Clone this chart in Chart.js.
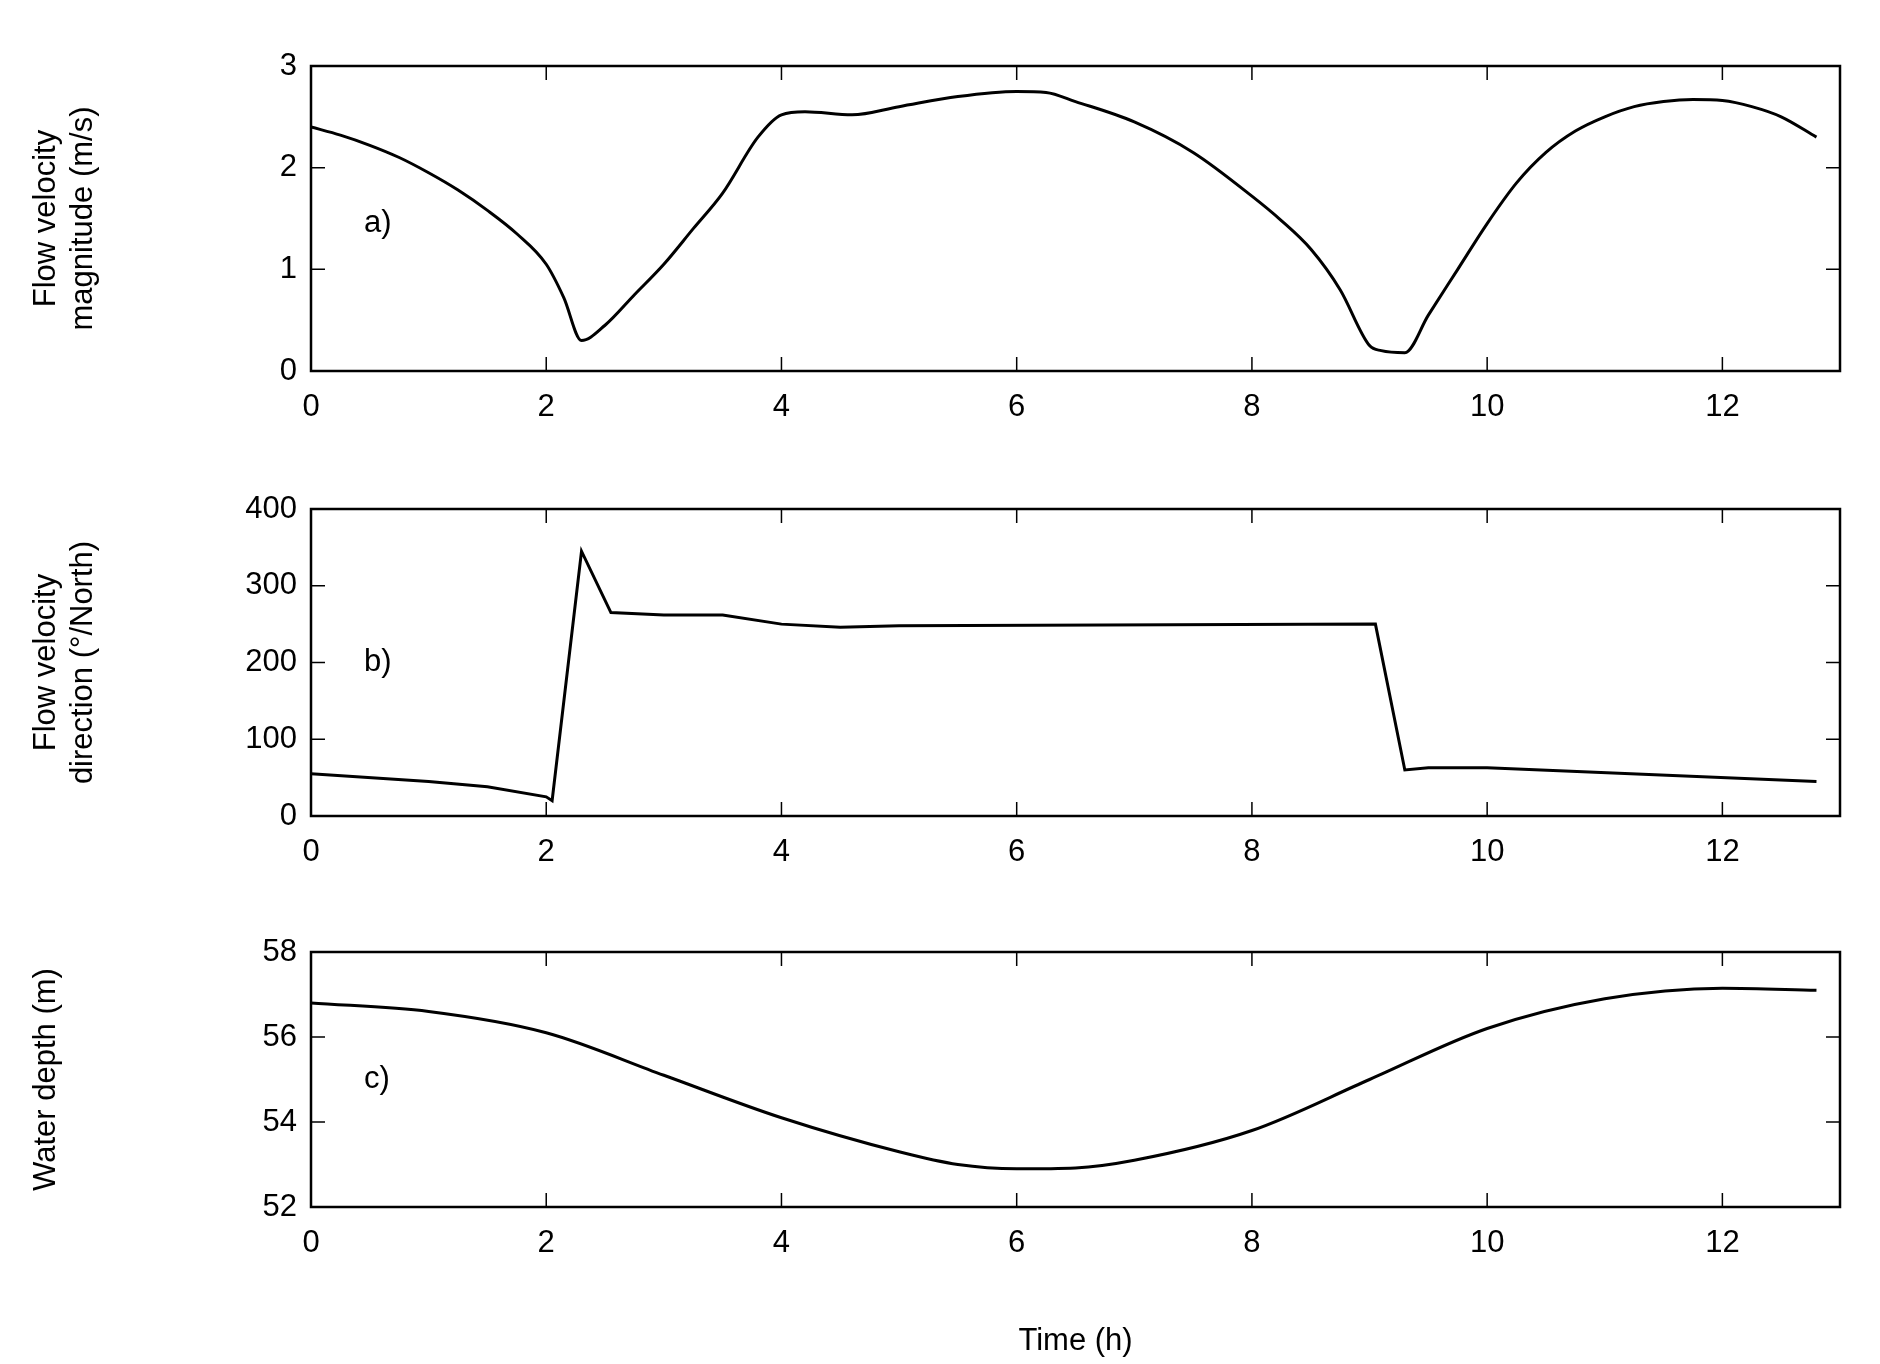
<!DOCTYPE html>
<html><head><meta charset="utf-8">
<script src="https://cdn.jsdelivr.net/npm/chart.js@4"></script>
<style>
body{margin:0;background:#fff;width:1880px;height:1364px;overflow:hidden;font-family:"Liberation Sans",Arial,sans-serif}
.p{position:absolute;left:0;width:1880px}
</style></head><body>
<div class="p" style="top:0;height:450px"><canvas id="c1"></canvas></div>
<div class="p" style="top:450px;height:430px"><canvas id="c2"></canvas></div>
<div class="p" style="top:880px;height:484px"><canvas id="c3"></canvas></div>
<script>
// hours vs value
const timeA = [0,0.25,0.5,0.75,1,1.25,1.5,1.75,2,2.15,2.3,2.5,2.75,3,3.25,3.5,3.8,4,4.2,4.6,5,5.5,6,6.25,6.5,7,7.5,8,8.25,8.5,8.75,9,9.1,9.3,9.5,9.75,10,10.25,10.5,10.75,11,11.25,11.5,11.75,12,12.25,12.5,12.8];
const speed = [2.4,2.32,2.22,2.1,1.95,1.78,1.58,1.35,1.05,0.72,0.3,0.45,0.75,1.05,1.4,1.75,2.3,2.52,2.55,2.52,2.6,2.7,2.75,2.74,2.65,2.45,2.15,1.72,1.48,1.2,0.8,0.25,0.2,0.18,0.55,1.0,1.45,1.85,2.15,2.36,2.5,2.6,2.65,2.67,2.66,2.6,2.5,2.3];
const timeB = [0,1,1.5,2,2.05,2.3,2.55,3,3.5,4,4.5,5,9.05,9.3,9.5,10,12.8];
const direction = [55,45,38,25,20,345,265,262,262,250,246,248,250,60,63,63,45];
const timeC = [0,1,2,3,4,5,5.5,6,6.5,7,8,9,10,11,12,12.8];
const depth = [56.8,56.6,56.1,55.1,54.1,53.3,53.0,52.9,52.92,53.1,53.8,55.0,56.2,56.9,57.15,57.1];
const xTicks = [0,2,4,6,8,10,12];

const font = {family:'"Liberation Sans", Arial, sans-serif', size:31};

const framePlugin = {
  id:'frame',
  afterDraw(chart, args, opts){
    const {ctx, chartArea:a, scales:{x,y}} = chart;
    ctx.save();
    ctx.strokeStyle='#000'; ctx.lineWidth=2.5;
    ctx.strokeRect(a.left,a.top,a.right-a.left,a.bottom-a.top);
    ctx.lineWidth=1.5;
    x.ticks.forEach(t=>{const px=x.getPixelForValue(t.value);
      ctx.beginPath();ctx.moveTo(px,a.bottom);ctx.lineTo(px,a.bottom-14);
      ctx.moveTo(px,a.top);ctx.lineTo(px,a.top+14);ctx.stroke();});
    y.ticks.forEach(t=>{const py=y.getPixelForValue(t.value);
      ctx.beginPath();ctx.moveTo(a.left,py);ctx.lineTo(a.left+14,py);
      ctx.moveTo(a.right,py);ctx.lineTo(a.right-14,py);ctx.stroke();});
    ctx.fillStyle='#000'; ctx.font='31px "Liberation Sans", Arial';
    ctx.textBaseline='middle';
    ctx.fillText(opts.text, x.getPixelForValue(opts.at[0]), y.getPixelForValue(opts.at[1]));
    ctx.restore();
  }
};

function makeChart(id, xs, ys, yMin, yMax, yStep, yTitle, panel, padTop, xH, xTitle, tension){
  new Chart(document.getElementById(id), {
    type:'line',
    data:{datasets:[{data:xs.map((t,i)=>({x:t,y:ys[i]})),borderColor:'#000',borderWidth:3,pointRadius:0,tension:tension,cubicInterpolationMode:tension?'monotone':'default'}]},
    options:{
      responsive:true, maintainAspectRatio:false, animation:false,
      layout:{padding:{left:24,right:40,top:padTop,bottom:0}},
      plugins:{legend:{display:false},tooltip:{enabled:false},frame:panel},
      scales:{
        x:{type:'linear',min:0,max:13,
          afterBuildTicks:s=>{s.ticks=xTicks.map(v=>({value:v}));},
          afterFit:s=>{s.height=xH;},
          grid:{display:false,drawTicks:false},border:{display:false},
          ticks:{color:'#000',font,padding:18},
          title:{display:!!xTitle,text:xTitle,color:'#000',font,padding:{top:8}}},
        y:{min:yMin,max:yMax,
          afterFit:s=>{s.width=287;},
          grid:{display:false,drawTicks:false},border:{display:false},
          ticks:{stepSize:yStep,color:'#000',font,padding:14},
          title:{display:true,text:yTitle,color:'#000',font,padding:{bottom:0}}}
      }
    },
    plugins:[framePlugin]
  });
}

makeChart('c1',timeA,speed,0,3,1,['Flow velocity','magnitude (m/s)'],{text:'a)',at:[0.45,1.45]},66,79,'',0.2);
makeChart('c2',timeB,direction,0,400,100,['Flow velocity','direction (°/North)'],{text:'b)',at:[0.45,200]},59,64,'',0);
makeChart('c3',timeC,depth,52,58,2,'Water depth (m)',{text:'c)',at:[0.45,55]},72,157,'Time (h)',0.4);
</script>
</body></html>
